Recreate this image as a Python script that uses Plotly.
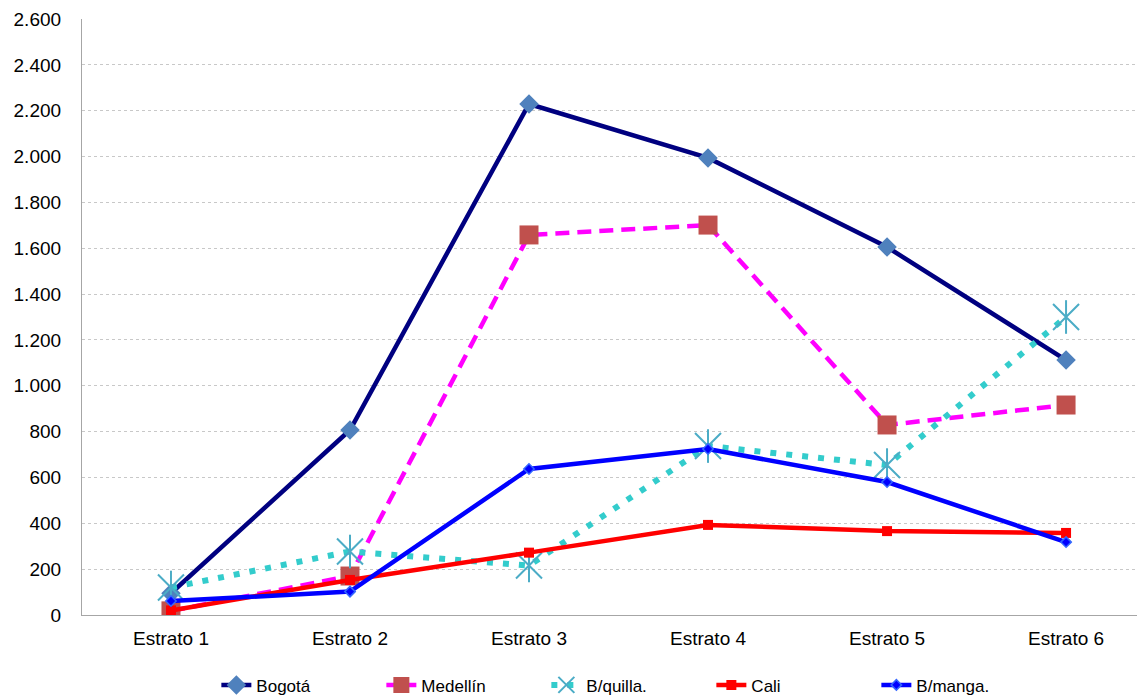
import plotly.graph_objects as go

categories = ["Estrato 1", "Estrato 2", "Estrato 3", "Estrato 4", "Estrato 5", "Estrato 6"]
bogota = [95, 807, 2229, 1994, 1605, 1112]
medellin = [18, 170, 1658, 1701, 829, 916]
barranquilla = [120, 277, 216, 737, 654, 1300]
cali = [20, 153, 272, 393, 366, 358]
bucaramanga = [61, 102, 637, 724, 580, 318]
y_ticks = list(range(0, 2601, 200))
y_tick_text = [f"{v:,}".replace(",", ".") for v in y_ticks]

fig = go.Figure()
fig.add_trace(go.Scatter(
    x=categories, y=bogota, name="Bogotá", mode="lines+markers",
    line=dict(color="#000080", width=4.5),
    marker=dict(symbol="diamond", size=15, color="#4F81BD", line=dict(width=0))))
fig.add_trace(go.Scatter(
    x=categories, y=medellin, name="Medellín", mode="lines+markers",
    line=dict(color="#FF00FF", width=4.5, dash="14px,8px"),
    marker=dict(symbol="square", size=19, color="#C0504D", line=dict(width=0))))
fig.add_trace(go.Scatter(
    x=categories, y=barranquilla, name="B/quilla.", mode="lines+markers",
    line=dict(color="#33CCCC", width=6, dash="6px,10px"),
    marker=dict(symbol="x-thin-open", size=26, color="#4BACC6",
                line=dict(color="#4BACC6", width=2))))
fig.add_trace(go.Scatter(
    x=categories, y=barranquilla, name="B/quilla.", mode="markers", showlegend=False,
    marker=dict(symbol="line-ns-open", size=24, color="#4BACC6",
                line=dict(color="#4BACC6", width=2))))
fig.add_trace(go.Scatter(
    x=categories, y=cali, name="Cali", mode="lines+markers",
    line=dict(color="#FF0000", width=4.5),
    marker=dict(symbol="square", size=10, color="#FF0000", line=dict(width=0))))
fig.add_trace(go.Scatter(
    x=categories, y=bucaramanga, name="B/manga.", mode="lines+markers",
    line=dict(color="#0000FF", width=4.5),
    marker=dict(symbol="diamond", size=8, color="#0000FF", line=dict(color="#3366FF", width=1.5))))

fig.update_layout(
    width=1137, height=698,
    margin=dict(l=74, r=0, t=11, b=91),
    paper_bgcolor="white", plot_bgcolor="white",
    font=dict(family="Liberation Sans, Arial, sans-serif", size=19, color="black"),
    showlegend=True,
    legend=dict(orientation="h", x=0.1264, xanchor="left", y=-0.118, yanchor="middle",
                font=dict(size=17), traceorder="normal", entrywidth=120),
)
fig.update_xaxes(
    type="category", range=[-0.497, 5.441],
    showline=True, linecolor="#A6A6A6", linewidth=1.2,
    showgrid=False, ticks="", tickfont=dict(size=19), ticklabelstandoff=6,
)
fig.update_yaxes(
    range=[0, 2600], tickvals=y_ticks, ticktext=y_tick_text,
    showline=True, linecolor="#A6A6A6", linewidth=1.2,
    showgrid=True, gridcolor="#C8C8C8", griddash="dot", gridwidth=1,
    zeroline=False, ticks="", tickfont=dict(size=19), ticklabelstandoff=16,
)

fig.write_html("out.html")
